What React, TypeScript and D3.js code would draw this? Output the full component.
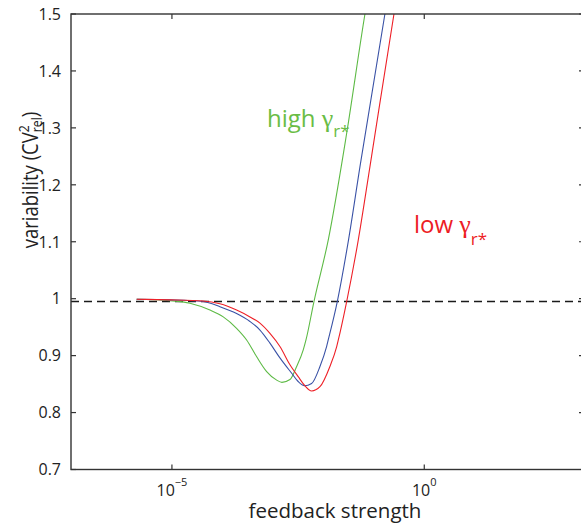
import React from 'react';
import * as d3 from 'd3';

const W = 581;
const H = 524;

// tick values and labels
const yTicks = [0.7, 0.8, 0.9, 1.0, 1.1, 1.2, 1.3, 1.4, 1.5];
const yTickLabels = ['0.7', '0.8', '0.9', '1', '1.1', '1.2', '1.3', '1.4', '1.5'];
const xTicks = [1e-5, 1];
const xTickExponents = ['\u22125', '0'];

// dashed reference level
const referenceLevel = 0.995;

// high gamma (green)
const greenX = [2.0e-6, 9.1e-6, 2.28e-5, 5.66e-5, 1.04e-4, 1.91e-4, 3.02e-4, 4.78e-4, 7.53e-4, 1.19e-3, 1.51e-3, 2.18e-3, 2.96e-3, 4.0e-3, 4.53e-3, 6.52e-3, 1.25e-2, 2.9e-2, 6.68e-2, 8.02e-2];
const greenY = [0.999, 0.9965, 0.992, 0.98, 0.968, 0.948, 0.9275, 0.898, 0.872, 0.857, 0.853, 0.858, 0.881, 0.91, 0.9275, 0.995, 1.103, 1.2905, 1.5, 1.542];

// intermediate gamma (blue)
const blueX = [2.0e-6, 9.1e-6, 4.17e-5, 8.93e-5, 1.91e-4, 3.52e-4, 5.55e-4, 8.75e-4, 1.38e-3, 2.36e-3, 3.14e-3, 4.23e-3, 5.86e-3, 8.57e-3, 1.16e-2, 1.25e-2, 1.89e-2, 3.15e-2, 5.32e-2, 0.166, 0.2];
const blueY = [0.999, 0.998, 0.995, 0.986, 0.974, 0.96, 0.945, 0.922, 0.896, 0.869, 0.855, 0.847, 0.851, 0.881, 0.916, 0.9275, 0.995, 1.103, 1.232, 1.5, 1.542];

// low gamma (red)
const redX = [2.0e-6, 9.1e-6, 4.17e-5, 8.93e-5, 1.91e-4, 3.52e-4, 5.55e-4, 8.75e-4, 1.38e-3, 2.18e-3, 3.18e-3, 4.33e-3, 5.86e-3, 8.57e-3, 1.35e-2, 1.84e-2, 1.98e-2, 2.9e-2, 4.92e-2, 8.39e-2, 0.251, 0.301];
const redY = [0.999, 0.998, 0.996, 0.991, 0.98, 0.968, 0.957, 0.939, 0.916, 0.884, 0.863, 0.847, 0.838, 0.8455, 0.881, 0.916, 0.9275, 0.995, 1.103, 1.232, 1.5, 1.542];

const FONT = '"Open Sans", "Noto Sans", sans-serif';
const GREEK = '"Liberation Serif", "DejaVu Serif", serif';
const AXIS = '#333';

export default function App() {
  const left = 71, right = 584, top = 14, bottom = 469.5;
  const x = d3.scaleLog().domain([1e-7, Math.pow(10, 3.165)]).range([left, right]);
  const y = d3.scaleLinear().domain([0.7, 1.5]).range([bottom, top]);
  const line = d3
    .line<[number, number]>()
    .x((d) => x(d[0]))
    .y((d) => y(d[1]))
    .curve(d3.curveMonotoneX);
  const mk = (xs: number[], ys: number[]) => line(xs.map((v, i) => [v, ys[i]] as [number, number])) || '';

  const series = [
    { xs: greenX, ys: greenY, color: '#5dba45' },
    { xs: blueX, ys: blueY, color: '#3a52a6' },
    { xs: redX, ys: redY, color: '#ee2027' },
  ];
  const tl = 5;

  return (
    <svg width={W} height={H} style={{ position: 'absolute', left: 0, top: 0 }} fontFamily={FONT}>
      <defs>
        <clipPath id="plotclip">
          <rect x={left} y={top} width={right - left} height={bottom - top} />
        </clipPath>
      </defs>
      <rect x={0} y={0} width={W} height={H} fill="#fff" />
      <line
        x1={left}
        x2={right}
        y1={y(referenceLevel)}
        y2={y(referenceLevel)}
        stroke="#1a1a1a"
        strokeWidth={1.5}
        strokeDasharray="8,5"
      />
      <g clipPath="url(#plotclip)" fill="none">
        {series.map((s, i) => (
          <path key={i} d={mk(s.xs, s.ys)} stroke={s.color} strokeWidth={1.1} />
        ))}
      </g>
      {/* axes box */}
      <rect x={left} y={top} width={right - left} height={bottom - top} fill="none" stroke={AXIS} strokeWidth={1.4} />
      {yTicks.map((t, i) => (
        <g key={'y' + i}>
          <line x1={left} x2={left + tl} y1={y(t)} y2={y(t)} stroke={AXIS} strokeWidth={1.2} />
          <line x1={right - tl} x2={right} y1={y(t)} y2={y(t)} stroke={AXIS} strokeWidth={1.2} />
          <text x={61} y={y(t)} dy="0.36em" textAnchor="end" fontSize={16} fill="#222">
            {yTickLabels[i]}
          </text>
        </g>
      ))}
      {xTicks.map((t, i) => (
        <g key={'x' + i}>
          <line x1={x(t)} x2={x(t)} y1={bottom} y2={bottom - tl} stroke={AXIS} strokeWidth={1.2} />
          <line x1={x(t)} x2={x(t)} y1={top} y2={top + tl} stroke={AXIS} strokeWidth={1.2} />
          <text x={x(t)} y={496} textAnchor="middle" fontSize={16} fill="#222">
            10
            <tspan dy={-10} fontSize={11}>
              {xTickExponents[i]}
            </tspan>
          </text>
        </g>
      ))}
      <text x={335} y={518} textAnchor="middle" fontSize={20.5} fill="#222">
        feedback strength
      </text>
      <text transform="translate(38,180) rotate(-90) scale(0.88,1)" textAnchor="middle" fontSize={21} fill="#222">
        variability (CV
        <tspan dy={-9} fontSize={14}>
          2
        </tspan>
        <tspan dx={-8} dy={13} fontSize={14}>
          rel
        </tspan>
        <tspan dy={-4}>)</tspan>
      </text>
      <text x={267} y={127} fontSize={24} fill="#6abd45">
        high{' '}
        <tspan fontFamily={GREEK} fontSize={26}>
          γ
        </tspan>
        <tspan dy={10} fontSize={17}>
          r*
        </tspan>
      </text>
      <text x={414} y={233} fontSize={24} fill="#ed1c24">
        low{' '}
        <tspan fontFamily={GREEK} fontSize={26}>
          γ
        </tspan>
        <tspan dy={12} fontSize={17}>
          r*
        </tspan>
      </text>
    </svg>
  );
}
